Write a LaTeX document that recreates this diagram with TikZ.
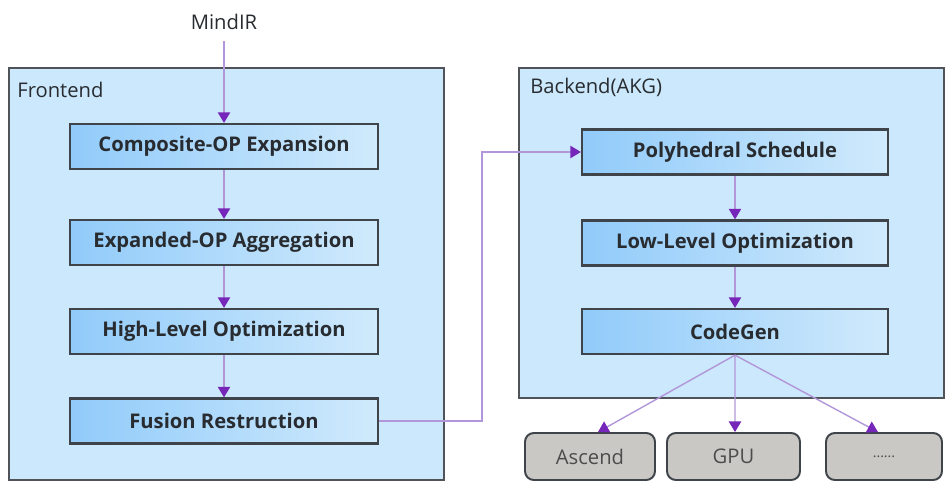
\documentclass[tikz,border=0pt]{standalone}
\usepackage{fontspec}
\setmainfont{Open Sans}
\usetikzlibrary{arrows.meta, calc, positioning}

\definecolor{groupfill}{RGB}{204,232,252}
\definecolor{groupline}{RGB}{80,84,88}
\definecolor{stageleft}{RGB}{145,203,250}
\definecolor{stageright}{RGB}{208,234,252}
\definecolor{stageline}{RGB}{62,68,74}
\definecolor{targetfill}{RGB}{202,200,196}
\definecolor{flowline}{RGB}{178,150,218}
\definecolor{flowtip}{RGB}{118,38,184}
\definecolor{labeltext}{RGB}{40,44,48}

\begin{document}
\begin{tikzpicture}
  [x=0.02cm, y=-0.02cm,
   group/.style = {draw=groupline, fill=groupfill, line width=1.1pt, inner sep=0pt},
   stage/.style = {draw=stageline, line width=1.3pt, left color=stageleft, right color=stageright,
     minimum width=6.16cm, minimum height=0.9cm, inner sep=0pt,
     font=\fontsize{11.5}{13}\selectfont\bfseries, text=labeltext},
   target/.style = {draw=stageline, fill=targetfill, line width=1.1pt, rounded corners=5pt,
     minimum height=0.94cm, inner sep=0pt, font=\fontsize{11.5}{13}\selectfont, text=black!70},
   grouplabel/.style = {font=\fontsize{11.5}{13}\selectfont, text=labeltext, anchor=west, inner sep=0pt},
   flow/.style = {draw=flowline, line width=0.8pt,
     -{Triangle[length=6pt, width=7pt, color=flowtip, fill=flowtip]}}
  ]
  \useasboundingbox (0,0) rectangle (948,490);

  % the two groups
  \node[group, minimum width=8.7cm, minimum height=8.24cm] (frontend) at (226.5,274) {};
  \node[group, minimum width=8.5cm, minimum height=6.6cm] (backend) at (731.5,233) {};
  \node[grouplabel] (frontendlabel) at (17,90) {Frontend};
  \node[grouplabel] (backendlabel) at (530,87) {Backend(AKG)};

  % frontend passes
  \node[font=\fontsize{11.5}{13}\selectfont, text=labeltext] (mindir) at (224,22) {MindIR};
  \node[stage] (expand) at (224,146.5) {Composite-OP Expansion};
  \node[stage] (aggregate) at (224,242.5) {Expanded-OP Aggregation};
  \node[stage] (highlevel) at (224,331.5) {High-Level Optimization};
  \node[stage] (restruct) at (224,421) {Fusion Restruction};

  % backend passes
  \node[stage, minimum width=6.12cm] (polyhedral) at (735,152) {Polyhedral Schedule};
  \node[stage, minimum width=6.12cm] (lowlevel) at (735,243) {Low-Level Optimization};
  \node[stage, minimum width=6.12cm] (codegen) at (735,331.5) {CodeGen};

  % targets
  \node[target, minimum width=2.6cm] (ascend) at (590,456.5) {Ascend};
  \node[target, minimum width=2.66cm] (gpu) at (733.5,456.5) {GPU};
  \node[target, minimum width=2.32cm, font=\fontsize{8}{9}\selectfont] (more) at (884,456.5) {......};

  \draw[flow] ($(mindir.south)+(0,5)$) -- (expand.north);
  \draw[flow] (expand) -- (aggregate);
  \draw[flow] (aggregate) -- (highlevel);
  \draw[flow] (highlevel) -- (restruct);
  \coordinate (turn) at (482,421);
  \draw[flow] (restruct.east) -- (turn) |- (polyhedral.west);
  \draw[flow] (polyhedral) -- (lowlevel);
  \draw[flow] (lowlevel) -- (codegen);
  \draw[flow] (codegen.south) -- ($(ascend.north)+(8,0)$);
  \draw[flow] (codegen.south) -- ($(gpu.north)+(1.5,0)$);
  \draw[flow] (codegen.south) -- ($(more.north)+(-6,0)$);
\end{tikzpicture}
\end{document}
